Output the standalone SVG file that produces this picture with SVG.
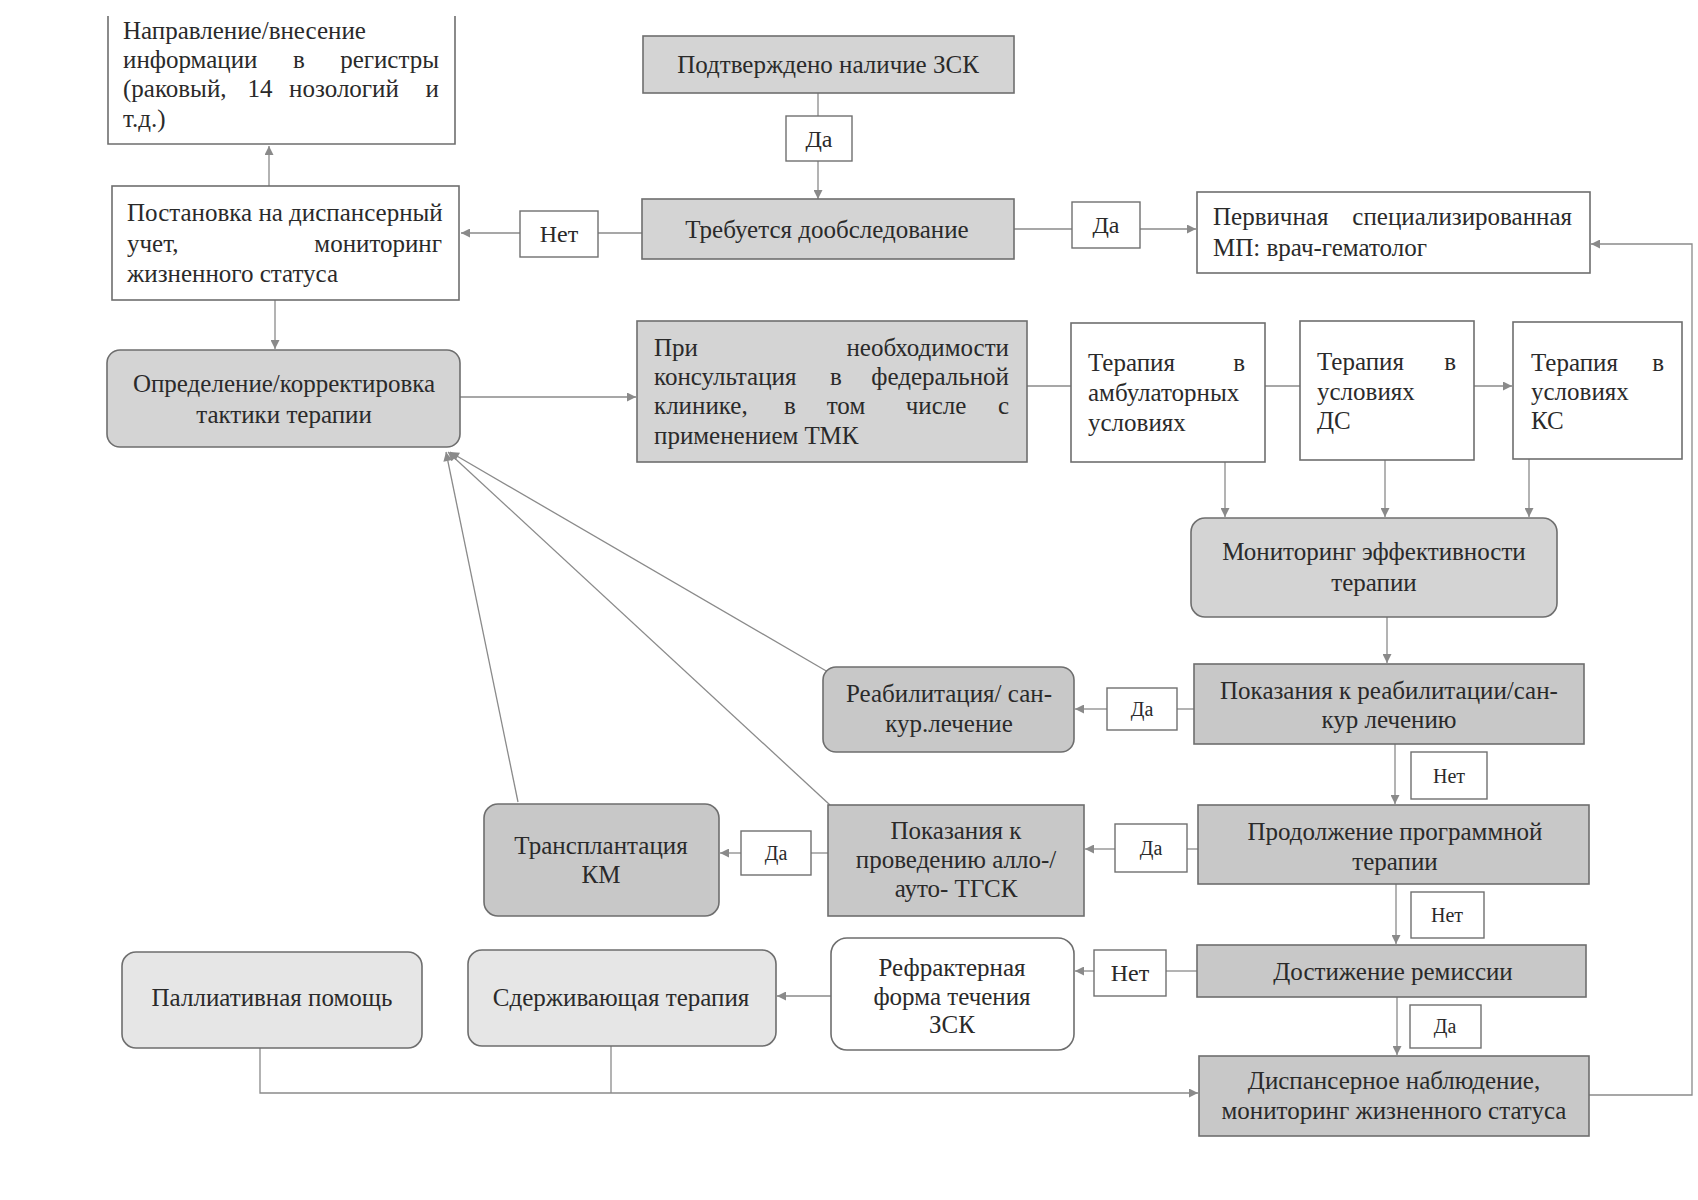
<svg xmlns="http://www.w3.org/2000/svg" width="1698" height="1200" viewBox="0 0 1698 1200">
<defs>
<marker id="ah" viewBox="0 0 10 10" refX="10" refY="5" markerWidth="10" markerHeight="9" markerUnits="userSpaceOnUse" orient="auto">
<path d="M0,0 L10,5 L0,10 z" fill="#8a8a8a"/>
</marker>
<style>
.box{stroke:#6e6e6e;stroke-width:1.6}
.w{fill:#ffffff}
.g{fill:#d4d4d4}
.d{fill:#c8c8c8}
.l{fill:#e6e6e6}
.lab{fill:#ffffff;stroke:#707070;stroke-width:1.4}
text{font-family:"Liberation Serif","Times New Roman","DejaVu Serif",serif;font-size:25px;fill:#2a2a2a}
.c{text-anchor:middle}
.e{text-anchor:end}
.s{font-size:24px}
.xs{font-size:20px}
.cn{fill:none;stroke:#8a8a8a;stroke-width:1.3}
</style>
</defs>
<rect width="1698" height="1200" fill="#ffffff"/>

<g id="connectors">
<line class="cn" x1="818" y1="93" x2="818" y2="116"/>
<line class="cn" x1="818" y1="161" x2="818" y2="199" marker-end="url(#ah)"/>
<line class="cn" x1="642" y1="233" x2="598" y2="233"/>
<line class="cn" x1="520" y1="233" x2="461" y2="233" marker-end="url(#ah)"/>
<line class="cn" x1="1014" y1="229" x2="1072" y2="229"/>
<line class="cn" x1="1140" y1="229" x2="1196" y2="229" marker-end="url(#ah)"/>
<line class="cn" x1="269" y1="186" x2="269" y2="146" marker-end="url(#ah)"/>
<line class="cn" x1="275" y1="300" x2="275" y2="349" marker-end="url(#ah)"/>
<line class="cn" x1="460" y1="397" x2="636" y2="397" marker-end="url(#ah)"/>
<line class="cn" x1="1027" y1="386" x2="1071" y2="386"/>
<line class="cn" x1="1265" y1="386" x2="1300" y2="386"/>
<line class="cn" x1="1474" y1="386" x2="1512" y2="386" marker-end="url(#ah)"/>
<line class="cn" x1="1225" y1="462" x2="1225" y2="517" marker-end="url(#ah)"/>
<line class="cn" x1="1385" y1="460" x2="1385" y2="517" marker-end="url(#ah)"/>
<line class="cn" x1="1529" y1="459" x2="1529" y2="517" marker-end="url(#ah)"/>
<line class="cn" x1="1387" y1="617" x2="1387" y2="663" marker-end="url(#ah)"/>
<line class="cn" x1="1194" y1="709" x2="1177" y2="709"/>
<line class="cn" x1="1107" y1="709" x2="1075" y2="709" marker-end="url(#ah)"/>
<line class="cn" x1="1395" y1="744" x2="1395" y2="804" marker-end="url(#ah)"/>
<line class="cn" x1="1198" y1="849" x2="1187" y2="849"/>
<line class="cn" x1="1115" y1="849" x2="1085" y2="849" marker-end="url(#ah)"/>
<line class="cn" x1="828" y1="853" x2="811" y2="853"/>
<line class="cn" x1="741" y1="853" x2="720" y2="853" marker-end="url(#ah)"/>
<line class="cn" x1="1396" y1="884" x2="1396" y2="944" marker-end="url(#ah)"/>
<line class="cn" x1="1197" y1="971" x2="1166" y2="971"/>
<line class="cn" x1="1094" y1="971" x2="1075" y2="971" marker-end="url(#ah)"/>
<line class="cn" x1="831" y1="996" x2="777" y2="996" marker-end="url(#ah)"/>
<line class="cn" x1="1397" y1="997" x2="1397" y2="1055" marker-end="url(#ah)"/>
<polyline class="cn" points="260,1048 260,1093 1198,1093" marker-end="url(#ah)"/>
<line class="cn" x1="611" y1="1046" x2="611" y2="1093"/>
<polyline class="cn" points="1589,1095 1692,1095 1692,244 1591,244" marker-end="url(#ah)"/>
<line class="cn" x1="828" y1="672" x2="450" y2="452" marker-end="url(#ah)"/>
<line class="cn" x1="830" y1="805" x2="448" y2="452" marker-end="url(#ah)"/>
<line class="cn" x1="518" y1="802" x2="446" y2="452" marker-end="url(#ah)"/>
</g>

<g id="nA">
<path class="box w" d="M108,16 V144 H455 V16"/>
<text x="123" y="39">Направление/внесение</text>
<text x="123" y="68">информации</text><text x="299" y="68" class="c">в</text><text x="439" y="68" class="e">регистры</text>
<text x="123" y="97">(раковый,</text><text x="260" y="97" class="c">14</text><text x="344" y="97" class="c">нозологий</text><text x="439" y="97" class="e">и</text>
<text x="123" y="127">т.д.)</text>
</g>

<g id="nB">
<rect class="box g" x="643" y="36" width="371" height="57"/>
<text x="828" y="73" class="c">Подтверждено наличие ЗСК</text>
</g>

<g id="lDa1"><rect class="lab" x="786" y="116" width="66" height="45"/><text x="819" y="147" class="c s">Да</text></g>

<g id="nC">
<rect class="box g" x="642" y="199" width="372" height="60"/>
<text x="827" y="238" class="c">Требуется дообследование</text>
</g>

<g id="lNet1"><rect class="lab" x="520" y="211" width="78" height="46"/><text x="559" y="242" class="c s">Нет</text></g>
<g id="lDa2"><rect class="lab" x="1072" y="202" width="68" height="46"/><text x="1106" y="233" class="c s">Да</text></g>

<g id="nD">
<rect class="box w" x="1197" y="192" width="393" height="81"/>
<text x="1213" y="225">Первичная</text><text x="1572" y="225" class="e">специализированная</text>
<text x="1213" y="256">МП: врач-гематолог</text>
</g>

<g id="nE">
<rect class="box w" x="112" y="186" width="347" height="114"/>
<text x="127" y="221">Постановка на диспансерный</text>
<text x="127" y="252">учет,</text><text x="442" y="252" class="e">мониторинг</text>
<text x="127" y="282">жизненного статуса</text>
</g>

<g id="nF">
<rect class="box g" x="107" y="350" width="353" height="97" rx="13"/>
<text x="284" y="392" class="c">Определение/корректировка</text>
<text x="284" y="423" class="c">тактики терапии</text>
</g>

<g id="nG">
<rect class="box g" x="637" y="321" width="390" height="141"/>
<text x="654" y="356">При</text><text x="1009" y="356" class="e">необходимости</text>
<text x="654" y="385">консультация</text><text x="836" y="385" class="c">в</text><text x="1009" y="385" class="e">федеральной</text>
<text x="654" y="414">клинике,</text><text x="790" y="414" class="c">в</text><text x="846" y="414" class="c">том</text><text x="936" y="414" class="c">числе</text><text x="1009" y="414" class="e">с</text>
<text x="654" y="444">применением ТМК</text>
</g>

<g id="nH">
<rect class="box w" x="1071" y="323" width="194" height="139"/>
<text x="1088" y="371">Терапия</text><text x="1245" y="371" class="e">в</text>
<text x="1088" y="401">амбулаторных</text>
<text x="1088" y="431">условиях</text>
</g>

<g id="nI">
<rect class="box w" x="1300" y="321" width="174" height="139"/>
<text x="1317" y="370">Терапия</text><text x="1456" y="370" class="e">в</text>
<text x="1317" y="400">условиях</text>
<text x="1317" y="429">ДС</text>
</g>

<g id="nJ">
<rect class="box w" x="1513" y="322" width="169" height="137"/>
<text x="1531" y="371">Терапия</text><text x="1664" y="371" class="e">в</text>
<text x="1531" y="400">условиях</text>
<text x="1531" y="429">КС</text>
</g>

<g id="nK">
<rect class="box g" x="1191" y="518" width="366" height="99" rx="14"/>
<text x="1374" y="560" class="c">Мониторинг эффективности</text>
<text x="1374" y="591" class="c">терапии</text>
</g>

<g id="nL">
<rect class="box d" x="1194" y="664" width="390" height="80"/>
<text x="1389" y="699" class="c">Показания к реабилитации/сан-</text>
<text x="1389" y="728" class="c">кур лечению</text>
</g>

<g id="lDa3"><rect class="lab" x="1107" y="688" width="70" height="42"/><text x="1142" y="716" class="c xs">Да</text></g>

<g id="nM">
<rect class="box d" x="823" y="667" width="251" height="85" rx="13"/>
<text x="949" y="702" class="c">Реабилитация/ сан-</text>
<text x="949" y="732" class="c">кур.лечение</text>
</g>

<g id="lNet4"><rect class="lab" x="1411" y="752" width="76" height="47"/><text x="1449" y="783" class="c xs">Нет</text></g>

<g id="nN">
<rect class="box d" x="1198" y="805" width="391" height="79"/>
<text x="1395" y="840" class="c">Продолжение программной</text>
<text x="1395" y="870" class="c">терапии</text>
</g>

<g id="lDa5"><rect class="lab" x="1115" y="824" width="72" height="48"/><text x="1151" y="855" class="c xs">Да</text></g>

<g id="nO">
<rect class="box d" x="828" y="805" width="256" height="111"/>
<text x="956" y="839" class="c">Показания к</text>
<text x="956" y="868" class="c">проведению алло-/</text>
<text x="956" y="897" class="c">ауто- ТГСК</text>
</g>

<g id="lDa6"><rect class="lab" x="741" y="831" width="70" height="44"/><text x="776" y="860" class="c xs">Да</text></g>

<g id="nP">
<rect class="box d" x="484" y="804" width="235" height="112" rx="14"/>
<text x="601" y="854" class="c">Трансплантация</text>
<text x="601" y="883" class="c">КМ</text>
</g>

<g id="lNet7"><rect class="lab" x="1411" y="892" width="73" height="46"/><text x="1447" y="922" class="c xs">Нет</text></g>

<g id="nQ">
<rect class="box d" x="1197" y="945" width="389" height="52"/>
<text x="1393" y="980" class="c">Достижение ремиссии</text>
</g>

<g id="lNet8"><rect class="lab" x="1094" y="950" width="72" height="46"/><text x="1130" y="981" class="c s">Нет</text></g>

<g id="nR">
<rect class="box w" x="831" y="938" width="243" height="112" rx="16"/>
<text x="952" y="976" class="c">Рефрактерная</text>
<text x="952" y="1005" class="c">форма течения</text>
<text x="952" y="1033" class="c">ЗСК</text>
</g>

<g id="lDa9"><rect class="lab" x="1410" y="1005" width="71" height="43"/><text x="1445" y="1033" class="c xs">Да</text></g>

<g id="nS">
<rect class="box d" x="1199" y="1056" width="390" height="80"/>
<text x="1394" y="1089" class="c">Диспансерное наблюдение,</text>
<text x="1394" y="1119" class="c">мониторинг жизненного статуса</text>
</g>

<g id="nT">
<rect class="box l" x="468" y="950" width="308" height="96" rx="14"/>
<text x="621" y="1006" class="c">Сдерживающая терапия</text>
</g>

<g id="nU">
<rect class="box l" x="122" y="952" width="300" height="96" rx="14"/>
<text x="272" y="1006" class="c">Паллиативная помощь</text>
</g>
</svg>
